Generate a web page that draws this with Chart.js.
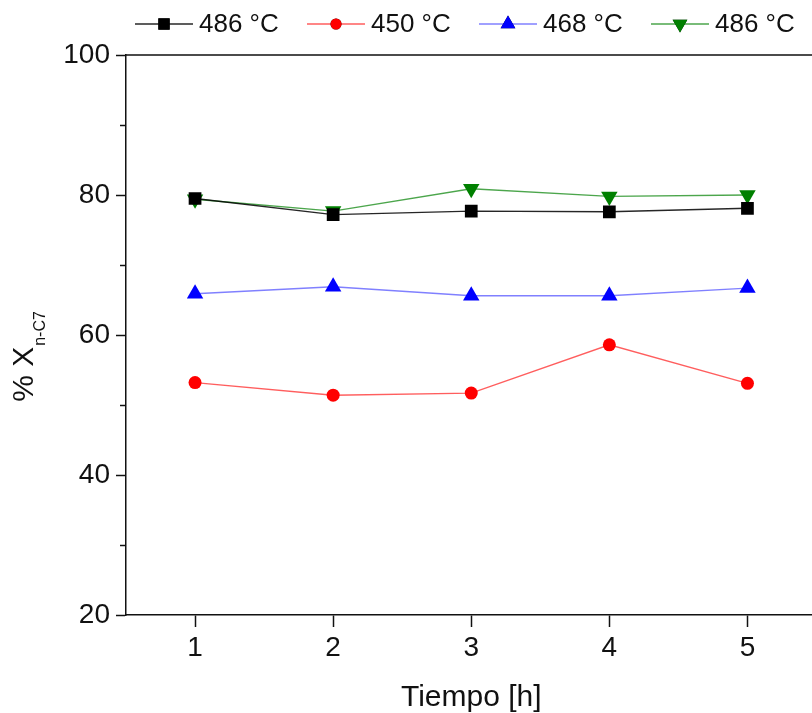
<!DOCTYPE html>
<html>
<head>
<meta charset="utf-8">
<script src="https://cdn.jsdelivr.net/npm/chart.js@4"></script>
<style>
  html, body { margin: 0; padding: 0; background: #fff; overflow: hidden; }
</style>
</head>
<body>
<canvas id="chart" width="826" height="713"></canvas>
<script>
const hours = [1, 2, 3, 4, 5];
const xTicks = [1, 2, 3, 4, 5];
const yTicks = [20, 40, 60, 80, 100];
const yMinorTicks = [30, 50, 70, 90];

const labels = ['486 °C', '450 °C', '468 °C', '486 °C'];
const black486 = [79.5, 77.2, 77.7, 77.6, 78.1];
const red450 = [53.2, 51.4, 51.7, 58.6, 53.1];
const blue468 = [65.9, 66.9, 65.6, 65.6, 66.7];
const green486 = [79.4, 77.7, 80.9, 79.8, 80.0];

const FONT = "'Liberation Sans', Arial, sans-serif";

const series = [
    { data: black486, color: '#000000', line: 'rgba(0,0,0,0.85)', style: 'rect', radius: 9, rotation: 0 },
    { data: red450, color: '#ff0000', line: 'rgba(255,40,40,0.75)', style: 'circle', radius: 6.5, rotation: 0 },
    { data: blue468, color: '#0000ff', line: 'rgba(60,60,255,0.65)', style: 'triangle', radius: 9.5, rotation: 0 },
    { data: green486, color: '#008000', line: 'rgba(0,128,0,0.7)', style: 'triangle', radius: 9.5, rotation: 180 },
];

// top legend, line + marker + label
const legendPlugin = {
    id: 'topLegend',
    afterDraw(chart) {
        const ctx = chart.ctx;
        const y = 24;
        let x = 135;
        chart.data.datasets.forEach(ds => {
            ctx.save();
            ctx.strokeStyle = ds.borderColor;
            ctx.lineWidth = 1.5;
            ctx.beginPath();
            ctx.moveTo(x, y);
            ctx.lineTo(x + 58, y);
            ctx.stroke();
            Chart.helpers.drawPoint(ctx, {
                pointStyle: ds.pointStyle,
                radius: ds.pointRadius - 1,
                rotation: ds.pointRotation,
                borderWidth: 0,
            }, x + 29, y);
            ctx.fillStyle = ds.pointBackgroundColor;
            ctx.fill();
            ctx.fillStyle = '#111';
            ctx.font = '26px ' + FONT;
            ctx.textAlign = 'left';
            ctx.textBaseline = 'middle';
            ctx.fillText(ds.label, x + 64, y + 1);
            ctx.restore();
            x += 172;
        });
    },
};

// frame, minor ticks, y title with subscript
const framePlugin = {
    id: 'frame',
    afterDraw(chart) {
        const { ctx, chartArea: a } = chart;
        const ys = chart.scales.y;
        ctx.save();
        ctx.strokeStyle = '#111';
        ctx.lineWidth = 1.5;
        ctx.beginPath();
        ctx.moveTo(a.left, a.top);
        ctx.lineTo(a.right, a.top);
        ctx.lineTo(a.right, a.bottom);
        ctx.stroke();
        yMinorTicks.forEach(v => {
            const py = Math.round(ys.getPixelForValue(v)) + 0.5;
            ctx.beginPath();
            ctx.moveTo(a.left - 6, py);
            ctx.lineTo(a.left, py);
            ctx.stroke();
        });

        ctx.translate(30, 357);
        ctx.rotate(-Math.PI / 2);
        ctx.fillStyle = '#111';
        ctx.textBaseline = 'alphabetic';
        ctx.textAlign = 'left';
        const main = '% X';
        ctx.font = '30px ' + FONT;
        const wMain = ctx.measureText(main).width;
        ctx.font = '16px ' + FONT;
        const wSub = ctx.measureText('n-C7').width;
        const x0 = -(wMain + wSub) / 2;
        ctx.font = '30px ' + FONT;
        ctx.fillText(main, x0, 3);
        ctx.font = '16px ' + FONT;
        ctx.fillText('n-C7', x0 + wMain + 1, 15);
        ctx.restore();
    },
};

new Chart(document.getElementById('chart'), {
    type: 'line',
    data: {
        datasets: series.map((s, i) => ({
            label: labels[i],
            data: hours.map((h, j) => ({ x: h, y: s.data[j] })),
            borderColor: s.line,
            borderWidth: 1.4,
            pointStyle: s.style,
            pointRadius: s.radius,
            pointRotation: s.rotation,
            pointBackgroundColor: s.color,
            pointBorderColor: s.color,
            pointBorderWidth: 0,
            tension: 0,
        })),
    },
    options: {
        responsive: false,
        animation: false,
        layout: { padding: { top: 55, right: 3, left: 0, bottom: 0 } },
        plugins: { legend: { display: false }, tooltip: { enabled: false } },
        scales: {
            x: {
                type: 'linear',
                min: 0.5, max: 5.5,
                afterBuildTicks: s => { s.ticks = xTicks.map(v => ({ value: v })); },
                afterFit: s => { s.height = 98; },
                border: { display: true, color: '#111', width: 1.5 },
                grid: { drawOnChartArea: false, drawTicks: true, tickLength: 12, tickColor: '#111', tickWidth: 1.5 },
                ticks: { color: '#111', font: { size: 28, family: FONT }, padding: 4, maxRotation: 0 },
                title: { display: true, text: 'Tiempo [h]', color: '#111', font: { size: 30, family: FONT, lineHeight: 1 }, padding: { top: 0, bottom: 0 } },
            },
            y: {
                type: 'linear',
                min: 20, max: 100,
                afterBuildTicks: s => { s.ticks = yTicks.map(v => ({ value: v })); },
                afterFit: s => { s.width = 126; },
                border: { display: true, color: '#111', width: 1.5 },
                grid: { drawOnChartArea: false, drawTicks: true, tickLength: 10, tickColor: '#111', tickWidth: 1.5 },
                ticks: { color: '#111', font: { size: 28, family: FONT }, padding: 6 },
            },
        },
    },
    plugins: [legendPlugin, framePlugin],
});
</script>
</body>
</html>
